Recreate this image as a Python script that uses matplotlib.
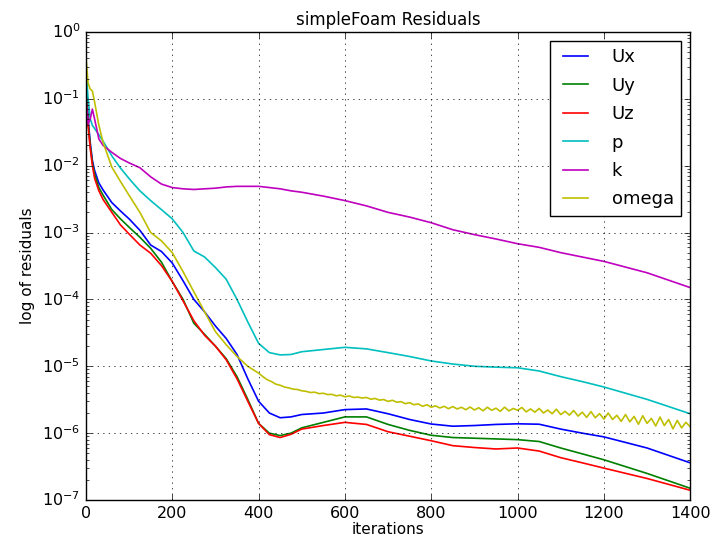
import matplotlib
matplotlib.use("Agg")
import matplotlib.pyplot as plt

iters = [0, 5, 10, 15, 20, 30, 40, 60, 80, 100, 125, 150, 175, 200, 225, 250,
         275, 300, 325, 350, 375, 400, 425, 450, 475, 500, 550, 600, 650, 700,
         750, 800, 850, 900, 950, 1000, 1050, 1100, 1150, 1200, 1300, 1400]

Ux = [0.22, 0.05, 0.022, 0.012, 0.0085, 0.0055, 0.0043, 0.0028, 0.0021, 0.0016,
      0.00108, 0.00065, 0.00052, 0.00035, 0.00019, 0.0001, 6.5e-5, 4e-5, 2.6e-5,
      1.5e-5, 6.5e-6, 3.0e-6, 2.0e-6, 1.7e-6, 1.75e-6, 1.9e-6, 2.0e-6, 2.25e-6,
      2.3e-6, 1.95e-6, 1.6e-6, 1.37e-6, 1.27e-6, 1.3e-6, 1.35e-6, 1.38e-6,
      1.36e-6, 1.15e-6, 1.0e-6, 8.8e-7, 6.0e-7, 3.6e-7]
Uy = [0.15, 0.045, 0.02, 0.011, 0.0075, 0.0047, 0.0036, 0.0022, 0.0016, 0.0012,
      0.00085, 0.00058, 0.00036, 0.000185, 0.0001, 4.4e-5, 3e-5, 2e-5, 1.3e-5,
      7e-6, 3.2e-6, 1.4e-6, 1.0e-6, 9.2e-7, 1.0e-6, 1.2e-6, 1.45e-6, 1.75e-6,
      1.75e-6, 1.35e-6, 1.1e-6, 9.3e-7, 8.6e-7, 8.4e-7, 8.2e-7, 8.0e-7, 7.5e-7,
      6.0e-7, 4.9e-7, 4.0e-7, 2.5e-7, 1.5e-7]
Uz = [0.12, 0.04, 0.018, 0.01, 0.0065, 0.0042, 0.0031, 0.002, 0.0013, 0.00095,
      0.00065, 0.00049, 0.00032, 0.000185, 9.5e-5, 4.8e-5, 2.9e-5, 2e-5, 1.25e-5,
      6.5e-6, 3e-6, 1.4e-6, 9.5e-7, 8.6e-7, 9.6e-7, 1.15e-6, 1.3e-6, 1.45e-6,
      1.35e-6, 1.05e-6, 9e-7, 7.7e-7, 6.5e-7, 6.1e-7, 5.8e-7, 6.0e-7, 5.4e-7,
      4.3e-7, 3.6e-7, 3.0e-7, 2.1e-7, 1.4e-7]
p = [0.3, 0.1, 0.05, 0.04, 0.036, 0.029, 0.023, 0.014, 0.0092, 0.0064,
     0.0042, 0.003, 0.0022, 0.0016, 0.001, 0.00053, 0.00043, 0.0003, 0.0002,
     1.0e-4, 4.6e-5, 2.2e-5, 1.6e-5, 1.48e-5, 1.5e-5, 1.65e-5, 1.78e-5, 1.92e-5,
     1.82e-5, 1.6e-5, 1.4e-5, 1.2e-5, 1.08e-5, 1.0e-5, 9.7e-6, 9.5e-6, 8.5e-6,
     7.0e-6, 5.9e-6, 4.9e-6, 3.2e-6, 1.95e-6]
k = [0.1, 0.042, 0.05, 0.07, 0.05, 0.025, 0.02, 0.0158, 0.0128, 0.011, 0.0093,
     0.0068, 0.0053, 0.0047, 0.0045, 0.0044, 0.0045, 0.0046, 0.0048, 0.0049,
     0.0049, 0.0049, 0.0047, 0.0045, 0.0042, 0.004, 0.0035, 0.003, 0.0025,
     0.002, 0.0017, 0.0014, 0.0011, 0.00093, 0.0008, 0.00068, 0.0006, 0.0005,
     0.00043, 0.00037, 0.00025, 0.00015]

# omega: smooth start, noisy tail
omega_iters = [0, 5, 10, 15, 20, 30, 40, 60, 80, 100, 125, 150, 175, 200, 225,
               250, 275, 300, 325, 350, 375, 400] + list(range(410, 1401, 10))
omega = [0.43, 0.17, 0.14, 0.13, 0.09, 0.04, 0.022, 0.0095, 0.0058, 0.0036,
         0.002, 0.001, 0.00075, 0.0005, 0.00026, 0.00013, 6.5e-5, 3.3e-5,
         2.1e-5, 1.4e-5, 1.0e-5, 7.9e-6,
         7.0e-6, 6.3e-6, 5.9e-6, 5.4e-6, 5.2e-6, 4.9e-6, 4.75e-6, 4.55e-6, 4.5e-6,
         4.3e-6, 4.22e-6, 4.05e-6, 4.1e-6, 3.9e-6, 3.95e-6, 3.78e-6, 3.8e-6,
         3.62e-6, 3.7e-6, 3.5e-6, 3.6e-6, 3.42e-6, 3.46e-6, 3.35e-6, 3.42e-6,
         3.22e-6, 3.3e-6, 3.12e-6, 3.18e-6, 2.98e-6, 3.1e-6, 2.9e-6, 2.96e-6,
         2.76e-6, 2.86e-6, 2.66e-6, 2.74e-6, 2.52e-6, 2.66e-6, 2.44e-6, 2.56e-6,
         2.38e-6, 2.52e-6, 2.32e-6, 2.5e-6, 2.3e-6, 2.44e-6, 2.24e-6, 2.46e-6,
         2.22e-6, 2.4e-6, 2.16e-6, 2.44e-6, 2.2e-6, 2.36e-6, 2.12e-6, 2.45e-6,
         2.15e-6, 2.34e-6, 2.2e-6, 2.42e-6, 2.08e-6, 2.3e-6, 2.06e-6, 2.34e-6,
         2.0e-6, 2.22e-6, 1.95e-6, 2.28e-6, 1.9e-6, 2.12e-6, 1.86e-6, 2.18e-6,
         1.8e-6, 2.06e-6, 1.72e-6, 2.1e-6, 1.7e-6, 1.96e-6, 1.62e-6, 2.0e-6,
         1.6e-6, 1.85e-6, 1.5e-6, 1.9e-6, 1.48e-6, 1.78e-6, 1.36e-6, 1.82e-6,
         1.4e-6, 1.66e-6, 1.28e-6, 1.74e-6, 1.3e-6, 1.6e-6, 1.16e-6, 1.55e-6,
         1.2e-6, 1.45e-6, 1.25e-6]

plt.style.use('classic')
plt.rcParams['figure.facecolor'] = 'white'
plt.rcParams['savefig.facecolor'] = 'white'
plt.rcParams['mathtext.default'] = 'regular'
plt.rcParams['font.family'] = ['DejaVu Sans']
plt.rcParams['lines.linewidth'] = 1.2

fig = plt.figure(figsize=(7.16, 5.4), dpi=100)
ax = fig.add_axes([0.120, 0.074, 0.844, 0.867])

ax.semilogy(iters, Ux, 'b', label='Ux')
ax.semilogy(iters, Uy, 'g', label='Uy')
ax.semilogy(iters, Uz, 'r', label='Uz')
ax.semilogy(iters, p, 'c', label='p')
ax.semilogy(iters, k, 'm', label='k')
ax.semilogy(omega_iters, omega, 'y', label='omega')

ax.set_xlim(0, 1400)
ax.set_ylim(1e-7, 1)
ax.grid(True)
ax.tick_params(labelsize=11.5)
ax.set_title('simpleFoam Residuals', fontsize=12)
ax.set_xlabel('iterations', fontsize=11, labelpad=1)
ax.set_ylabel('log of residuals', fontsize=11)
ax.legend(loc='upper right', fontsize=13, labelspacing=0.58, handletextpad=1.0)

fig.savefig('out.png', dpi=100)
